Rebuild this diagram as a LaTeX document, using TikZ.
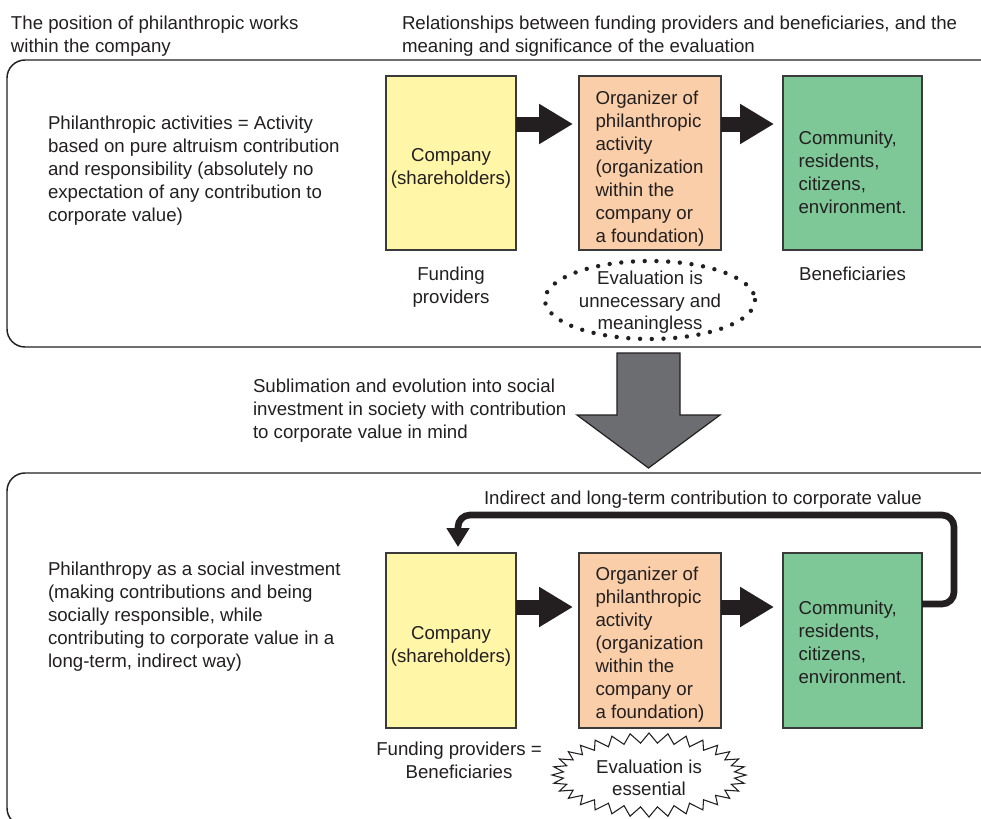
\documentclass[tikz,border=0pt]{standalone}
\usepackage{fontspec}
\setmainfont{Liberation Sans}
\usetikzlibrary{arrows.meta,calc}
\definecolor{txt}{HTML}{231F20}
\definecolor{ylw}{HTML}{FFF6A8}
\definecolor{peach}{HTML}{FACEA8}
\definecolor{grn}{HTML}{7EC898}
\definecolor{grayarrow}{HTML}{6C6D70}
\definecolor{edge}{HTML}{3A3A3A}
\begin{document}
\begin{tikzpicture}[x=0.75pt,y=-0.75pt,
  every node/.style={inner sep=0pt,outer sep=0pt,text=txt,font=\fontsize{14pt}{17.25pt}\selectfont},
  lefttext/.style={anchor=north west,align=left},
  ctrtext/.style={anchor=center,align=center},
  boxtxt/.style={anchor=center,align=left},
  panel/.style={draw=txt,line width=1.1pt,rounded corners=13.5pt},
  stagebox/.style={draw=edge,line width=0.9pt,rectangle},
  blkarrow/.style={draw=txt,line width=11.25pt,-{Triangle[length=25.5pt,width=28.5pt]}},
  fbarrow/.style={draw=txt,line width=5pt,rounded corners=9pt,-{Triangle[length=14.25pt,width=16.5pt]}},
  dotline/.style={draw=txt,line width=3.3pt,line cap=round,dash pattern=on 0pt off 8.8pt},
  starb/.style={draw=txt,line width=0.8pt,line join=miter,fill=white}
]
\useasboundingbox (0,0) rectangle (981,818);
\clip (0,0) rectangle (981,818);

% headers
\node[lefttext] (h1) at (11,16) {The position of philanthropic works\\within the company};
\node[lefttext] (h2) at (402,16) {Relationships between funding providers and beneficiaries, and the\\meaning and significance of the evaluation};

% panels
\draw[panel] (7,60) rectangle (1000,347);
\draw[panel] (7,473) rectangle (1000,826);

% ---------- top panel ----------
\node[lefttext] (t1) at (48,115.5) {Philanthropic activities = Activity\\based on pure altruism contribution\\and responsibility (absolutely no\\expectation of any contribution to\\corporate value)};

\node[stagebox,fill=ylw,minimum width=97.5pt,minimum height=130.5pt] (comp1) at (451,163) {};
\node[stagebox,fill=peach,minimum width=106.5pt,minimum height=130.5pt] (org1) at (650,163) {};
\node[stagebox,fill=grn,minimum width=104.25pt,minimum height=130.5pt] (ben1) at (852.5,163) {};

\node[ctrtext] (comp1t) at (451,168.5) {Company\\(shareholders)};
\node[boxtxt] (org1t) at (650,168.5) {Organizer of\\philanthropic\\activity\\(organization\\within the\\company or\\a foundation)};
\node[boxtxt] (ben1t) at (852.5,172) {Community,\\residents,\\citizens,\\environment.};

\draw[blkarrow,shorten >=4.5pt] ($(comp1.north east)+(0,48)$) -- ($(org1.north west)+(0,48)$);
\draw[blkarrow,shorten >=6.75pt] ($(org1.north east)+(0,48)$) -- ($(ben1.north west)+(0,48)$);

\node[ctrtext] (fund1) at (451,287) {Funding\\providers};
\node[ctrtext] (benf1) at (852.5,273.5) {Beneficiaries};

\draw[dotline] (650,300) ellipse [x radius=105, y radius=39];
\node[ctrtext,font=\fontsize{14pt}{16.9pt}\selectfont] (eval1) at (650,302.5) {Evaluation is\\unnecessary and\\meaningless};

% ---------- transition ----------
\draw[draw=txt,fill=grayarrow,line width=0.9pt,line join=miter]
  (617,353) -- (680,353) -- (680,415) -- (720,415) -- (648.5,468) -- (577,415) -- (617,415) -- cycle;
\node[lefttext] (sub) at (253,379) {Sublimation and evolution into social\\investment in society with contribution\\to corporate value in mind};

% ---------- bottom panel ----------
\node[lefttext] (t2) at (48,561.5) {Philanthropy as a social investment\\(making contributions and being\\socially responsible, while\\contributing to corporate value in a\\long-term, indirect way)};

\node[stagebox,fill=ylw,minimum width=97.5pt,minimum height=131.25pt] (comp2) at (451,640.5) {};
\node[stagebox,fill=peach,minimum width=106.5pt,minimum height=131.25pt] (org2) at (650,640.5) {};
\node[stagebox,fill=grn,minimum width=104.25pt,minimum height=131.25pt] (ben2) at (852.5,640.5) {};

\node[ctrtext] (comp2t) at (451,646) {Company\\(shareholders)};
\node[boxtxt] (org2t) at (650,644.5) {Organizer of\\philanthropic\\activity\\(organization\\within the\\company or\\a foundation)};
\node[boxtxt] (ben2t) at (852.5,642.5) {Community,\\residents,\\citizens,\\environment.};

\draw[blkarrow,shorten >=4.5pt] ($(comp2.north east)+(0,54)$) -- ($(org2.north west)+(0,54)$);
\draw[blkarrow,shorten >=6.75pt] ($(org2.north east)+(0,54)$) -- ($(ben2.north west)+(0,54)$);

\coordinate (fbend) at ($(comp2.north)+(7,-6)$);
\draw[fbarrow] ($(ben2.north east)+(0,51)$) -- (954,604) -- (954,515) -- (458,515) -- (fbend);
\node[lefttext] (fblabel) at (484,491) {Indirect and long-term contribution to corporate value};

\node[ctrtext] (fund2) at (459,760.5) {Funding providers =\\Beneficiaries};

\draw[starb] (746,775) \foreach \a in {0,11.25,...,348.75}{
  -- ({649+86*cos(\a+5.625)},{775+32*sin(\a+5.625)}) -- ({649+97*cos(\a+11.25)},{775+42*sin(\a+11.25)}) } -- cycle;
\node[ctrtext,font=\fontsize{14pt}{16.9pt}\selectfont] (eval2) at (649,778) {Evaluation is\\essential};
\end{tikzpicture}
\end{document}
